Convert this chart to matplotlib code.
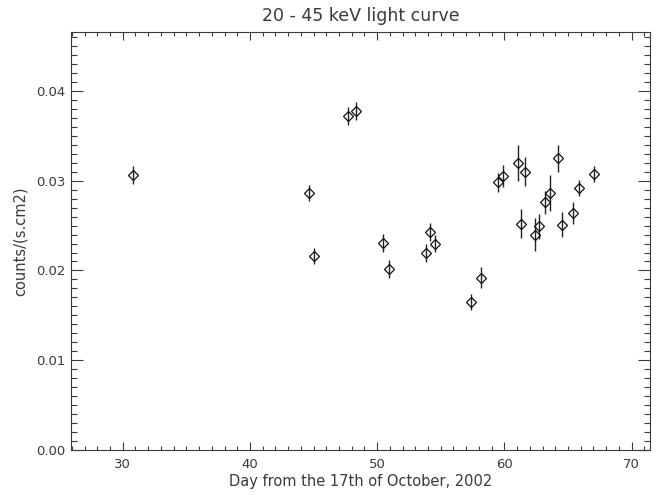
import matplotlib
matplotlib.use("Agg")
import matplotlib.pyplot as plt
from matplotlib.ticker import MultipleLocator

plt.rcParams['font.family'] = ['DejaVu Sans']

days = [30.83, 44.65, 45.06, 47.74, 48.32, 50.44, 50.91, 53.82, 54.18, 54.58,
        57.38, 58.14, 59.48, 59.92, 61.10, 61.30, 61.60, 62.41, 62.75, 63.20,
        63.60, 64.20, 64.51, 65.43, 65.85, 67.03]
rates = [0.0306, 0.0286, 0.0216, 0.0372, 0.0378, 0.0231, 0.0202, 0.0219, 0.0243, 0.0230,
         0.0165, 0.0192, 0.0298, 0.0305, 0.0320, 0.0252, 0.0310, 0.0240, 0.0249, 0.0276,
         0.0286, 0.0325, 0.0251, 0.0264, 0.0292, 0.0307]
errors = [0.0010, 0.0009, 0.0009, 0.0010, 0.0010, 0.0010, 0.0010, 0.0010, 0.0010, 0.0009,
          0.0009, 0.0012, 0.0011, 0.0012, 0.0020, 0.0016, 0.0016, 0.0018, 0.0014, 0.0013,
          0.0020, 0.0015, 0.0014, 0.0012, 0.0009, 0.0009]

title = "20 - 45 keV light curve"
xlabel = "Day from the 17th of October, 2002"
ylabel = "counts/(s.cm2)"

ink = '#3a3a3a'

fig = plt.figure(figsize=(6.56, 4.95), dpi=100)
ax = fig.add_axes([0.1078, 0.0909, 0.8831, 0.8451])

ax.errorbar(days, rates, yerr=errors, fmt='none', ecolor='#222222', elinewidth=1.0, capsize=0)
ax.plot(days, rates, linestyle='none', marker='D', markersize=5.2,
        markerfacecolor='none', markeredgecolor='#111111', markeredgewidth=0.9)

ax.set_xlim(25.91, 71.45)
ax.set_ylim(0.0, 0.0466)

ax.xaxis.set_major_locator(MultipleLocator(10))
ax.xaxis.set_minor_locator(MultipleLocator(1))
ax.yaxis.set_major_locator(MultipleLocator(0.01))
ax.yaxis.set_minor_locator(MultipleLocator(0.001))
ax.yaxis.set_major_formatter(matplotlib.ticker.FormatStrFormatter('%.2f'))

ax.tick_params(axis='both', which='both', direction='in', top=True, right=True,
               color=ink, width=0.8, labelcolor=ink, labelsize=9.5)
ax.tick_params(axis='x', which='major', length=5.8, pad=6)
ax.tick_params(axis='x', which='minor', length=3.0)
ax.tick_params(axis='y', which='major', length=8.3, pad=4)
ax.tick_params(axis='y', which='minor', length=4.3)

for sp in ax.spines.values():
    sp.set_color(ink)
    sp.set_linewidth(0.8)

ax.set_title(title, fontsize=12.5, color=ink, pad=8)
ax.set_xlabel(xlabel, fontsize=10.5, color=ink, labelpad=2)
ax.set_ylabel(ylabel, fontsize=10.5, color=ink, labelpad=6)

fig.savefig("out.png", dpi=100)
